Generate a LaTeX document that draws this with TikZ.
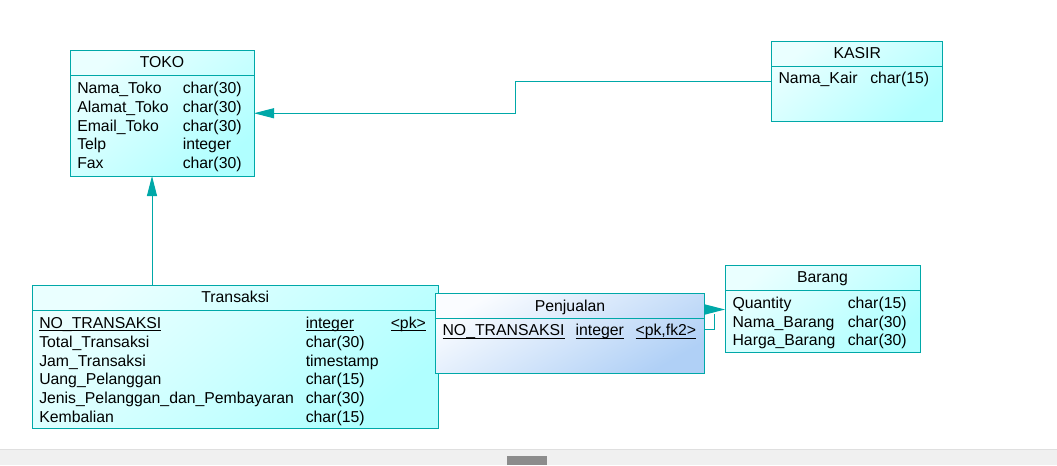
\documentclass[tikz,border=0pt]{standalone}
\usepackage{fontspec}
\setmainfont{Liberation Sans}
\usepackage{tikz}
\usetikzlibrary{arrows.meta,calc}
\definecolor{erline}{RGB}{0,168,168}
\definecolor{erlight}{RGB}{234,255,255}
\definecolor{erdark}{RGB}{176,255,255}
\definecolor{pjlight}{RGB}{250,252,255}
\definecolor{pjdark}{RGB}{176,208,246}
\definecolor{barfill}{RGB}{240,240,240}
\newcommand{\keyline}[1]{\setbox0\hbox{#1}\rlap{\vrule height -1.5pt depth 2.2pt width \wd0}#1}
\tikzset{
  entity/.style={draw=erline,line width=0.75pt,inner sep=0,outer sep=0,
    top color=erlight,bottom color=erdark,shading angle=40},
  relation/.style={entity,top color=pjlight,bottom color=pjdark,shading angle=30},
  attr/.style={anchor=base west,inner sep=0,font=\fontsize{11.85}{14}\selectfont},
  title/.style={anchor=base,inner sep=0,font=\fontsize{11.85}{14}\selectfont},
  fk/.style={draw=erline,line width=0.75pt,-{Triangle[length=15pt,width=7.5pt]}},
  fkline/.style={draw=erline,line width=0.75pt}
}
\begin{document}
\begin{tikzpicture}[x=0.75pt,y=-0.75pt]
\useasboundingbox (0,0) rectangle (1057,465);
%window bar
\fill[barfill](0,449)rectangle(1057,465);
\draw[very thin,gray!25](0,449)--(1057,449);
\fill[gray!90](507,456)rectangle(547,465);
%toko
\node[entity,minimum width=184*0.75pt,minimum height=125.5*0.75pt](toko)at(162,113.25){};
\draw[fkline](70,75)--(254,75);
\node[title](toko-t)at(162,67.5){TOKO};
\foreach \n/\t [count=\i] in {Nama\_Toko/char(30),Alamat\_Toko/char(30),Email\_Toko/char(30),Telp/integer,Fax/char(30)}{
\node[attr](toko-n\i)at(77,{93.5+18.8*(\i-1)}){\n};
\node[attr](toko-d\i)at(182.5,{93.5+18.8*(\i-1)}){\t};
}
%kasir
\node[entity,minimum width=171*0.75pt,minimum height=80*0.75pt](kasir)at(857.3,81){};
\draw[fkline](772,66.7)--(942.7,66.7);
\node[title](kasir-t)at(857.3,58.5){KASIR};
\node[attr](kasir-n1)at(778.3,83.8){Nama\_Kair};
\node[attr](kasir-d1)at(870,83.8){char(15)};
%transaksi
\node[entity,minimum width=406*0.75pt,minimum height=143.3*0.75pt](transaksi)at(235.3,357.3){};
\draw[fkline](32.3,310)--(438.3,310);
\node[title](transaksi-t)at(235.3,302.8){Transaksi};
\node[attr](transaksi-n1)at(39,328.2){\keyline{NO\_TRANSAKSI}};
\node[attr](transaksi-d1)at(305.5,328.2){\keyline{integer}};
\node[attr](transaksi-k1)at(390.5,328.2){\keyline{<pk>}};
\foreach \n/\t [count=\i from 2] in {Total\_Transaksi/char(30),Jam\_Transaksi/timestamp,Uang\_Pelanggan/char(15),Jenis\_Pelanggan\_dan\_Pembayaran/char(30),Kembalian/char(15)}{
\node[attr](transaksi-n\i)at(39,{328.2+18.9*(\i-1)}){\n};
\node[attr](transaksi-d\i)at(305.5,{328.2+18.9*(\i-1)}){\t};
}
%penjualan
\node[relation,minimum width=268.6*0.75pt,minimum height=80*0.75pt](penjualan)at(570,333.3){};
\draw[fkline](435.7,318.3)--(704.3,318.3);
\node[title](penjualan-t)at(570,311.2){Penjualan};
\node[attr](penjualan-n1)at(442.3,335.5){\keyline{NO\_TRANSAKSI}};
\node[attr](penjualan-d1)at(575.3,335.5){\keyline{integer}};
\node[attr](penjualan-k1)at(635.3,335.5){\keyline{<pk,fk2>}};
%barang
\node[entity,minimum width=195*0.75pt,minimum height=87.7*0.75pt](barang)at(822.5,308.85){};
\draw[fkline](725,290.7)--(920,290.7);
\node[title](barang-t)at(822.5,282.2){Barang};
\foreach \n/\t [count=\i] in {Quantity/char(15),Nama\_Barang/char(30),Harga\_Barang/char(30)}{
\node[attr](barang-n\i)at(732.3,{308.2+18.8*(\i-1)}){\n};
\node[attr](barang-d\i)at(847.5,{308.2+18.8*(\i-1)}){\t};
}
%references
\draw[fk](kasir.west)--++(-256,0)|-(toko.east);
\coordinate(tx)at(152,0);
\draw[fk](transaksi.north -| tx)--(toko.south -| tx);
\coordinate(pb)at(0,309.5);
\draw[fk](penjualan.east |- pb)--(barang.west |- pb);
\coordinate(pk)at(714,329);
\draw[fkline](penjualan.east |- pk)--(pk)--++(0,-15);
\end{tikzpicture}
\end{document}
